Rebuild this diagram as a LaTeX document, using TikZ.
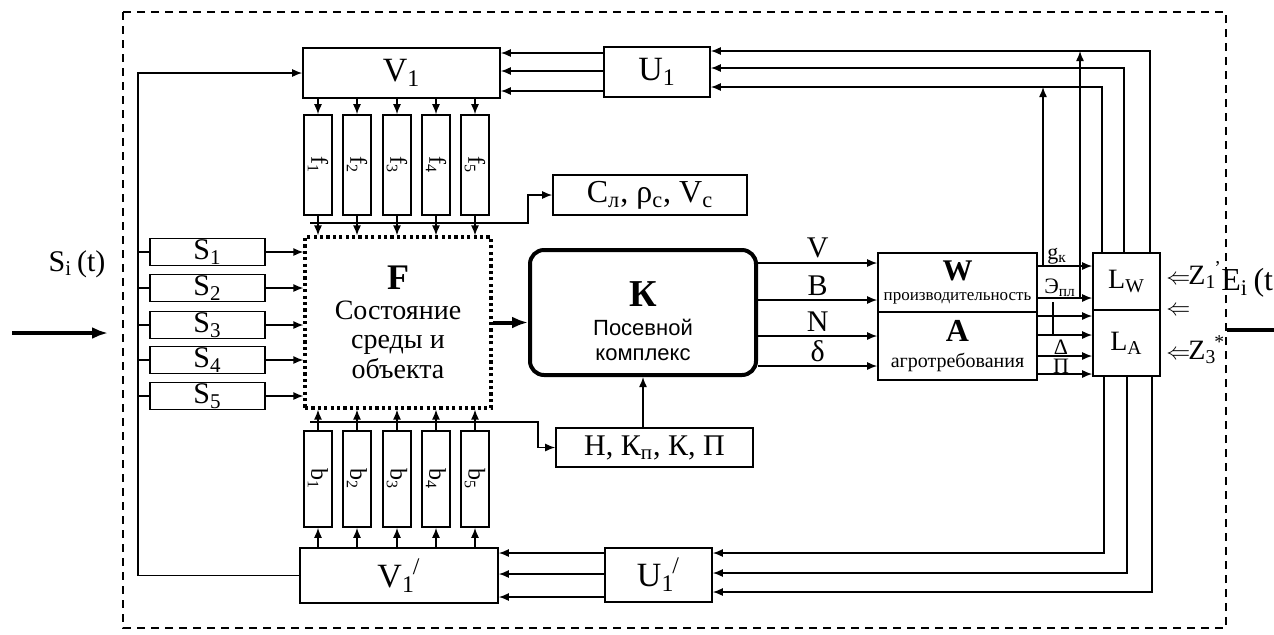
\documentclass[tikz,border=0pt]{standalone}
\usepackage{fontspec}
\setmainfont{Liberation Serif}
\newfontfamily\sansf{Liberation Sans}
\usetikzlibrary{arrows.meta,calc}

\begin{document}
\begin{tikzpicture}[x=0.5pt,y=-0.5pt,
  every node/.style={font=\fontsize{15}{17}\selectfont,inner sep=0pt,align=center},
  bx/.style n args={2}{draw,line width=0.8pt,minimum width=#1*0.5pt,minimum height=#2*0.5pt},
  arr/.style={-{Latex[length=5pt,width=4pt]},line width=0.7pt},
  bigarr/.style={-{Latex[length=8pt,width=6pt]},line width=2pt},
  big/.style={font=\fontsize{17}{19}\selectfont},
  lab/.style={font=\fontsize{11}{12}\selectfont},
  zlab/.style={anchor=west,font=\fontsize{14}{16}\selectfont}]
\useasboundingbox (0,0) rectangle (1274,634);
\draw[line width=1.2pt,dash pattern=on 4pt off 3pt] (123,12) rectangle (1226,628);

\node[bx={197}{50},big] (V1) at (401.5,73) {V\textsubscript{1}};
\node[bx={106}{50},big] (U1) at (657,72) {U\textsubscript{1}};
\node[bx={198}{55},big] (V1p) at (399,575.5) {V\textsubscript{1}\kern-1pt\textsuperscript{/}};
\node[bx={107}{54},big] (U1p) at (658.5,575) {U\textsubscript{1}\kern-1pt\textsuperscript{/}};
\node[bx={194}{40},font=\fontsize{16}{18}\selectfont] (C) at (650,195) {C\textsubscript{л}, ρ\textsubscript{с}, V\textsubscript{с}};
\node[bx={197}{39}] (H) at (654.5,447.5) {Н, К\textsubscript{п}, К, П};
\node[draw,line width=1.6pt,dash pattern=on 1.6pt off 1.6pt,minimum width=93pt,minimum height=85.5pt,font=\fontsize{14}{14.8}\selectfont] (F) at (398,322.5)
  {{\fontsize{18}{20}\selectfont\bfseries F}\\[0pt]Состояние\\среды и\\объекта};
\node[draw,line width=2pt,rounded corners=7pt,minimum width=113pt,minimum height=62.5pt,font=\sansf\fontsize{11}{12.5}\selectfont] (K) at (643,312.5)
  {{\rule{0pt}{21pt}\rmfamily\fontsize{19}{20}\selectfont\bfseries К}\\[2pt]Посевной\\комплекс};
\node[bx={159}{59}] (W) at (957.5,282.5) {\textbf{W}\\[-7pt]{\fontsize{8.5}{9}\selectfont производительность}};
\node[bx={159}{68}] (A) at (957.5,346) {{\fontsize{16}{17}\selectfont\bfseries A}\\[-4pt]{\fontsize{10}{11}\selectfont агротребования}};
\node[bx={67}{57},font=\fontsize{14}{16}\selectfont] (LW) at (1126.5,281.5) {L\textsubscript{W}};
\node[bx={67}{66},font=\fontsize{14}{16}\selectfont] (LA) at (1126.5,343) {L\textsubscript{A}};

\foreach \i/\xx in {1/318,2/357,3/397,4/436,5/475} {
  \node[bx={28}{100},font=\fontsize{12}{13}\selectfont] (f\i) at (\xx,165) {\rotatebox{-90}{f\textsubscript{\i}}};
  \node[bx={28}{96},font=\fontsize{12}{13}\selectfont] (b\i) at (\xx,479) {\rotatebox{-90}{b\textsubscript{\i}}};
  \draw[arr] (f\i.north |- V1.south) -- (f\i.north);
  \draw[arr] (f\i.south) -- (f\i.south |- F.north);
  \draw[arr] (b\i.south |- V1p.north) -- (b\i.south);
  \draw[arr] (b\i.north) -- (b\i.north |- F.south);
}
\foreach \i/\yy in {1/252,2/288,3/325,4/360,5/396}
  \node[bx={115}{27}] (S\i) at (207.5,\yy) {S\textsubscript{\i}};

\coordinate (lb) at (138,0);
\draw[arr] (V1p.west) -- (V1p.west -| lb) -- (V1.west -| lb) -- (V1.west);
\foreach \i in {1,...,5} {
  \draw[line width=0.7pt] (S\i.west -| lb) -- (S\i.west);
  \draw[arr] (S\i.east) -- (S\i.east -| F.west);
}

\coordinate (in0) at (12,333);
\coordinate (in1) at (108,333);
\draw[bigarr] (in0) -- (in1);
\node (Si) at (77,264) {S\textsubscript{i}\,(t)};
\coordinate (out0) at (1227,330);
\coordinate (out1) at (1310,330);
\draw[bigarr] (out0) -- (out1);
\node[anchor=west,font=\fontsize{16}{18}\selectfont] (E) at (1221,283) {E\textsubscript{i}\,(t)};

\draw[arr] (310,223) -- (528,223) |- (C.west);
\draw[arr] (310,422) -- (538,422) |- (H.west);
\draw[arr] (K.south |- H.north) -- (K.south);
\draw[bigarr] (F.east) -- (F.east -| K.west);

\foreach \y/\t in {263/V,300/B,336/N,366/δ}
  \draw[arr] (K.east |- 0,\y) -- node[above=2pt]{\t} (W.west |- 0,\y);
\foreach \y in {266,298,316,335,356,374}
  \draw[arr] (W.east |- 0,\y) -- (LW.west |- 0,\y);
\node[lab] (gk) at (1057,256) {g\textsubscript{к}};
\node[lab] (ep) at (1060,288) {Э\textsubscript{пл}};
\node[lab] (dl) at (1061,347) {Δ};
\node[lab] (pi) at (1061,366) {П};
\draw[line width=0.7pt] (1053,302) -- (1053,335);

\foreach \y in {53,71,91}
  \draw[arr] (U1.west |- 0,\y) -- (V1.east |- 0,\y);
\foreach \y in {553,574,597}
  \draw[arr] (U1p.west |- 0,\y) -- (V1p.east |- 0,\y);
\draw[arr] (LW.north -| 1150,0) |- (U1.east |- 0,51);
\draw[arr] (LW.north -| 1124,0) |- (U1.east |- 0,68);
\draw[arr] (LW.north -| 1102,0) |- (U1.east |- 0,87);
\draw[arr] (1043,266) -- (1043,87);
\draw[arr] (1080,298) -- (1080,51);
\draw[arr] (LA.south -| 1104,0) |- (U1p.east |- 0,553);
\draw[arr] (LA.south -| 1127,0) |- (U1p.east |- 0,573);
\draw[arr] (LA.south -| 1152,0) |- (U1p.east |- 0,592);

\node[zlab] (Z1) at (1166,275) {{\fontsize{12}{12}\selectfont$\Leftarrow$}\kern-1ptZ\textsubscript{1}\kern-1pt\textsuperscript{'}};
\node[zlab] (Z2) at (1166,311) {{\fontsize{12}{12}\selectfont$\Leftarrow$}};
\node[zlab] (Z3) at (1166,350) {{\fontsize{12}{12}\selectfont$\Leftarrow$}\kern-1ptZ\textsubscript{3}\kern-1pt\textsuperscript{*}};
\end{tikzpicture}
\end{document}
